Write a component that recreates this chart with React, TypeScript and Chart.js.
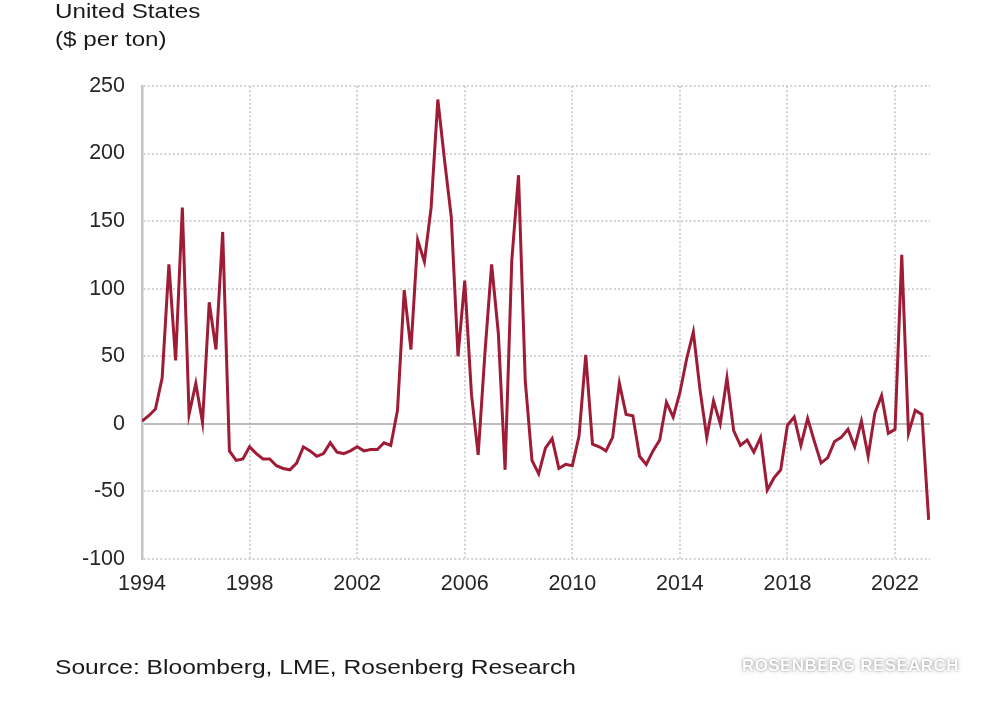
import React, { useEffect, useRef } from "react";
import { Chart, registerables } from "chart.js";

Chart.register(...registerables);

// Quarterly series, starting 1994 Q1 ($ per ton)
const START_YEAR = 1994;
const QUARTERS_PER_YEAR = 4;
const premiumValues = [
  2, 6, 11, 34, // 1994
  118, 47, 160, 7, // 1995
  30, 1, 90, 55, // 1996
  142, -20, -27, -26, // 1997
  -17, -22, -26, -26, // 1998
  -31, -33, -34, -29, // 1999
  -17, -20, -24, -22, // 2000
  -14, -21, -22, -20, // 2001
  -17, -20, -19, -19, // 2002
  -14, -16, 10, 99, // 2003
  55, 136, 120, 160, // 2004
  240, 195, 153, 50, // 2005
  106, 22, -23, 52, // 2006
  118, 67, -34, 121, // 2007
  184, 32, -27, -37, // 2008
  -18, -11, -33, -30, // 2009
  -31, -9, 51, -15, // 2010
  -17, -20, -10, 30, // 2011
  7, 6, -24, -30, // 2012
  -20, -12, 16, 5, // 2013
  23, 48, 68, 25, // 2014
  -10, 17, 0, 34, // 2015
  -5, -16, -12, -21, // 2016
  -10, -49, -40, -34, // 2017
  -1, 5, -16, 4, // 2018
  -13, -29, -25, -13, // 2019
  -10, -4, -17, 2, // 2020
  -24, 8, 21, -7, // 2021
  -4, 125, -7, 10, // 2022
  7, -71, // 2023
];
const quarterIndex = premiumValues.map((_, i) => i);
const xTickYears = [1994, 1998, 2002, 2006, 2010, 2014, 2018, 2022];
const yTickValues = [-100, -50, 0, 50, 100, 150, 200, 250];
const X_MIN = 1994;
const X_MAX = 2023.3;

const titleLines = ["United States", "($ per ton)"];
const sourceText = "Source: Bloomberg, LME, Rosenberg Research";
const watermarkText = "ROSENBERG RESEARCH";

const FONT = '"Liberation Sans", Arial, sans-serif';

export default function App() {
  const canvasRef = useRef<HTMLCanvasElement | null>(null);

  useEffect(() => {
    if (!canvasRef.current) return;
    const points = quarterIndex.map((i) => ({
      x: START_YEAR + i / QUARTERS_PER_YEAR,
      y: premiumValues[i],
    }));
    const chart = new Chart(canvasRef.current, {
      type: "line",
      data: {
        datasets: [
          {
            data: points,
            borderColor: "#9e1c36",
            borderWidth: 3,
            pointRadius: 0,
            tension: 0,
            fill: false,
            borderJoinStyle: "miter",
          },
        ],
      },
      options: {
        animation: false,
        responsive: false,
        devicePixelRatio: 1,
        layout: { padding: { top: 86, right: 70, bottom: 0, left: 0 } },
        plugins: {
          legend: { display: false },
          tooltip: { enabled: false },
        },
        scales: {
          x: {
            type: "linear",
            min: X_MIN,
            max: X_MAX,
            afterFit: (scale: any) => {
              scale.height = 145;
            },
            afterBuildTicks: (scale: any) => {
              scale.ticks = xTickYears.map((v) => ({ value: v }));
            },
            ticks: {
              font: { family: FONT, size: 21.5 },
              color: "#262626",
              padding: 12,
              maxRotation: 0,
              autoSkip: false,
              callback: (v: any) => String(v),
            },
            grid: {
              color: "#d2d2d2",
              lineWidth: 2,
              drawTicks: false,
            },
            border: {
              display: false,
              dash: [2, 2.2],
            },
          },
          y: {
            min: -100,
            max: 250,
            afterFit: (scale: any) => {
              scale.width = 142;
            },
            afterBuildTicks: (scale: any) => {
              scale.ticks = yTickValues.map((v) => ({ value: v }));
            },
            ticks: {
              font: { family: FONT, size: 21.5 },
              color: "#262626",
              padding: 17,
              callback: (v: any) => String(v),
            },
            grid: {
              color: (ctx: any) =>
                ctx.tick && ctx.tick.value === 0 ? "#bdbdbd" : "#d2d2d2",
              lineWidth: 2,
              drawTicks: false,
            },
            border: {
              display: true,
              color: "#c4c4c4",
              width: 2.5,
              dash: (ctx: any) =>
                ctx.tick && ctx.tick.value === 0 ? [] : [2, 2.2],
            },
          },
        },
      },
    });
    return () => chart.destroy();
  }, []);

  const textStyle: React.CSSProperties = {
    position: "absolute",
    left: 55,
    fontFamily: FONT,
    color: "#1a1a1a",
    whiteSpace: "nowrap",
    transformOrigin: "left top",
    lineHeight: "20px",
    fontSize: 20,
    transform: "scaleX(1.21)",
  };

  return (
    <div
      style={{
        position: "absolute",
        left: 0,
        top: 0,
        width: 1000,
        height: 704,
        background: "#ffffff",
        overflow: "hidden",
      }}
    >
      <canvas
        ref={canvasRef}
        width={1000}
        height={704}
        style={{ position: "absolute", left: 0, top: 0, width: 1000, height: 704 }}
      />
      <div style={{ ...textStyle, top: 1 }}>{titleLines[0]}</div>
      <div style={{ ...textStyle, top: 29 }}>{titleLines[1]}</div>
      <div style={{ ...textStyle, top: 657, fontSize: 20.5, lineHeight: "20.5px", transform: "scaleX(1.2)" }}>
        {sourceText}
      </div>
      <div
        style={{
          position: "absolute",
          left: 742,
          top: 657,
          fontFamily: FONT,
          fontWeight: "bold",
          fontSize: 17,
          lineHeight: "17px",
          letterSpacing: 0.4,
          color: "#ffffff",
          whiteSpace: "nowrap",
          textShadow: "0 0 2px rgba(0,0,0,0.4), 0 0 5px rgba(0,0,0,0.25)",
        }}
      >
        {watermarkText}
      </div>
    </div>
  );
}
